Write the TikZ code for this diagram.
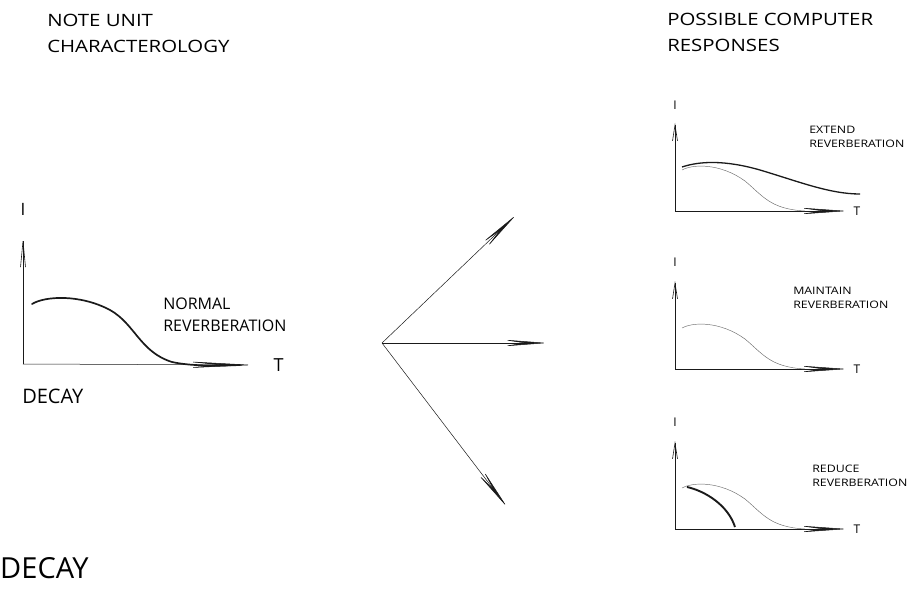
\documentclass[tikz,border=0pt]{standalone}
\usepackage{fontspec}
\setmainfont{Open Sans}
\newfontfamily\widefont{Open Sans}[FakeStretch=1.2]
\usetikzlibrary{arrows.meta, positioning, calc}
\definecolor{cink}{HTML}{1A1A1A}
\definecolor{cfaint}{HTML}{6B6B6B}
\tikzset{
  every picture/.style={font=\rmfamily, line width=0.5pt, x=1pt, y=-1pt},
  axis/.style={draw=cink, line width=0.5pt},
  feather/.style={-{Stealth[length=#1, width=7pt, inset=0.5*#1, line width=0.5pt]}, draw=cink, line width=0.5pt},
  feather/.default=46pt,
  caret/.style={-{Straight Barb[length=#1, width=5pt, line width=0.6pt]}, draw=cink, line width=0.5pt},
  caret/.default=16pt,
  heavy/.style={draw=cink, line width=1.7pt, line cap=round},
  faint/.style={draw=cfaint, line width=0.45pt},
  title/.style={font=\widefont\fontsize{17}{26}\selectfont, align=left, anchor=north west, inner sep=0pt},
  note/.style={font=\fontsize{16}{22}\selectfont, align=left, anchor=north west, inner sep=0pt},
  tiny/.style={font=\widefont\fontsize{10.3}{14}\selectfont, align=left, anchor=north west, inner sep=0pt},
}
% one of the small response graphs: name, origin y, I-label y
\newcommand{\respaxes}[3]{
  \coordinate (#1o) at (675,#2);
  \coordinate (#1y) at (675,#2-88);
  \coordinate (#1x) at (847,#2);
  \draw[axis, caret] (#1o) -- (#1y);
  \draw[axis, feather=50pt] (#1o) -- (#1x);
  \node[font=\fontsize{12}{14}\selectfont] (#1i) at (675,#3) {I};
  \node[font=\fontsize{12}{14}\selectfont, right=3pt of #1x] (#1t) {T};
  \draw[faint] ($(#1o)+(7,-41)$) .. controls ($(#1o)+(18,-47)$) and ($(#1o)+(45,-48)$) .. ($(#1o)+(70,-30)$)
    .. controls ($(#1o)+(88,-15)$) and ($(#1o)+(95,-2)$) .. ($(#1o)+(130,0)$);
}

\begin{document}
\begin{tikzpicture}
  \useasboundingbox (0,0) rectangle (912,596);
  % titles
  \node[title] (ttlleft) at (47,14) {NOTE UNIT\\CHARACTEROLOGY};
  \node[title] (ttlright) at (667,13) {POSSIBLE COMPUTER\\RESPONSES};
  \node[font=\fontsize{29}{32}\selectfont, anchor=north west, inner sep=0pt] (decaybig) at (0,557) {DECAY};
  % normal decay
  \coordinate (no) at (23,364);
  \coordinate (ny) at (23,238);
  \coordinate (nx) at (253,365);
  \draw[axis, caret=26pt] (no) -- (ny);
  \draw[axis, feather=70pt] (no) -- (nx);
  \node[font=\fontsize{17}{20}\selectfont] (ni) at (23,209) {I};
  \node[font=\fontsize{18}{20}\selectfont, right=17pt of nx] (nt) {T};
  \node[note] (nnote) at (163,298) {NORMAL\\REVERBERATION};
  \node[font=\fontsize{20}{22}\selectfont, anchor=north west, inner sep=0pt] (ndecay) at (22,389) {DECAY};
  \draw[heavy] (32,304) .. controls (45,296) and (80,294) .. (110,310)
    .. controls (135,324) and (140,352) .. (172,362) .. controls (190,366) and (215,366) .. (240,365);
  % three choices
  \coordinate (fork) at (382,343);
  \coordinate (fup) at (516,215);
  \coordinate (fmid) at (547,343);
  \coordinate (fdown) at (507,507);
  \foreach \f in {fup, fmid, fdown}
    \draw[feather] (fork) -- (\f);
  % extend
  \respaxes{e}{211}{105}
  \node[tiny] (enote) at (809,126) {EXTEND\\REVERBERATION};
  \draw[draw=cink, line width=1.3pt] (682,167) .. controls (700,161) and (725,160) .. (760,170)
    .. controls (800,182) and (830,194) .. (860,194);
  % maintain
  \respaxes{m}{369}{262}
  \node[tiny] (mnote) at (793,287) {MAINTAIN\\REVERBERATION};
  % reduce
  \respaxes{r}{529}{422}
  \node[tiny] (rnote) at (812,465) {REDUCE\\REVERBERATION};
  \draw[heavy, line width=1.9pt, line cap=butt] (687,487) .. controls (705,491) and (728,505) .. (735,527);
\end{tikzpicture}
\end{document}
